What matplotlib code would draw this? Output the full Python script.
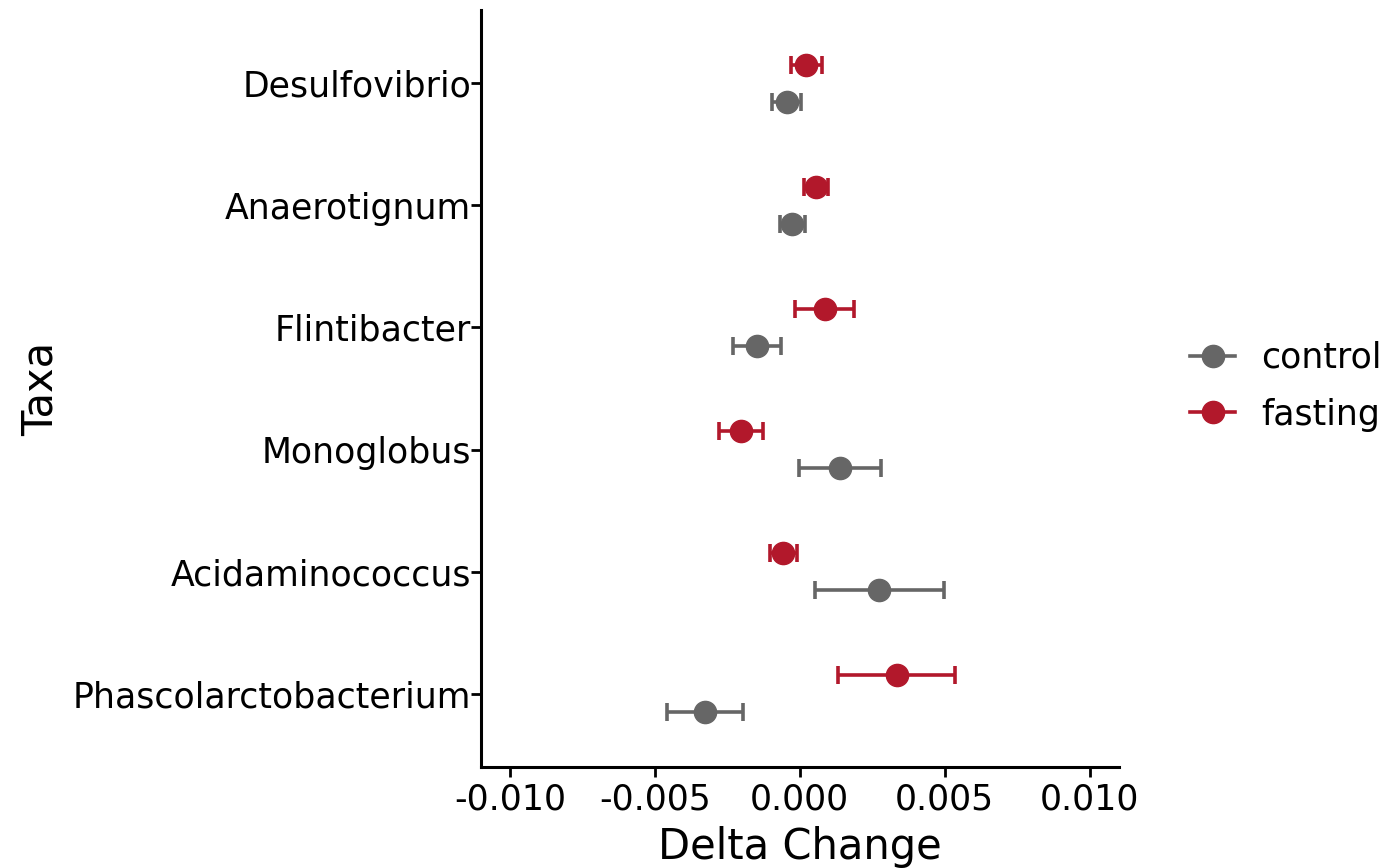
import numpy as np
import matplotlib.pyplot as plt
from matplotlib.lines import Line2D

# taxa from top to bottom
taxa = ['Desulfovibrio', 'Anaerotignum', 'Flintibacter', 'Monoglobus',
        'Acidaminococcus', 'Phascolarctobacterium']

fasting_mean = [0.00023, 0.00056, 0.00086, -0.00201, -0.00056, 0.00334]
fasting_se = [0.00054, 0.00040, 0.00102, 0.00076, 0.00047, 0.00201]
control_mean = [-0.00044, -0.00026, -0.00146, 0.00138, 0.00275, -0.00327]
control_se = [0.00050, 0.00043, 0.00083, 0.00141, 0.00222, 0.00130]

col_control = '#666666'
col_fasting = '#B2182B'

fig = plt.figure(figsize=(13.86, 8.68), dpi=100)
ax = fig.add_axes([0.347, 0.1164, 0.4600, 0.8721])

y = np.arange(len(taxa))[::-1]
dodge = 0.15

ax.errorbar(control_mean, y - dodge, xerr=control_se, fmt='o', color=col_control,
            ms=16, elinewidth=2.6, capsize=6.5, capthick=2.6)
ax.errorbar(fasting_mean, y + dodge, xerr=fasting_se, fmt='o', color=col_fasting,
            ms=16, elinewidth=2.6, capsize=6.5, capthick=2.6)

ax.set_xlim(-0.011, 0.011)
ax.set_ylim(-0.6, len(taxa) - 0.4)
ax.set_xticks([-0.010, -0.005, 0.0, 0.005, 0.010])
ax.set_xticklabels(['-0.010', '-0.005', '0.000', '0.005', '0.010'])
ax.set_yticks(y)
ax.set_yticklabels(taxa)

for s in ['top', 'right']:
    ax.spines[s].set_visible(False)
for s in ['left', 'bottom']:
    ax.spines[s].set_linewidth(2.2)
ax.tick_params(axis='both', width=2.0, length=7, labelsize=25, colors='black')
ax.tick_params(axis='y', pad=0)
ax.tick_params(axis='x', pad=4)

ax.set_xlabel('Delta Change', fontsize=30, labelpad=7)
ax.set_ylabel('Taxa', fontsize=30, labelpad=8)

handles = [Line2D([0], [0], color=col_control, marker='o', ms=16, lw=2.6),
           Line2D([0], [0], color=col_fasting, marker='o', ms=16, lw=2.6)]
fig.legend(handles, ['control', 'fasting'], loc='center left',
           bbox_to_anchor=(0.836, 0.555), frameon=False, fontsize=25,
           handlelength=1.3, handletextpad=0.75, labelspacing=0.65)

fig.savefig('out.png', dpi=100)
